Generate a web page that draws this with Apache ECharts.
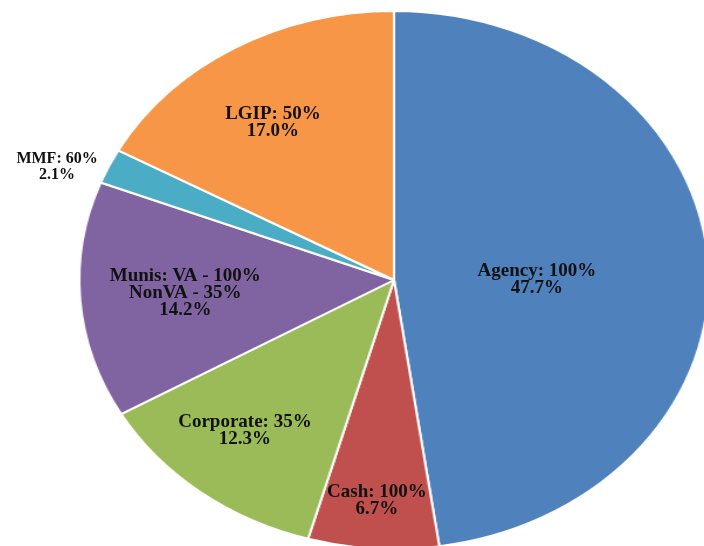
<!DOCTYPE html>
<html lang="en">
<head>
    <meta charset="UTF-8">
    <title>Portfolio</title>
    <script src="https://cdn.jsdelivr.net/npm/echarts@6/dist/echarts.min.js"></script>
    <style>
        html, body { margin: 0; padding: 0; background: #fff; overflow: hidden; }
        .layer { position: absolute; left: 0; top: 0; width: 704px; height: 546px; }
        #pie { transform: scaleX(1.17); transform-origin: 394px 280px; }
    </style>
</head>
<body>
<div id="pie" class="layer"></div>
<div id="labels" class="layer"></div>

<script type="text/javascript">

    // slices, clockwise from 12 o'clock
    const categories = ['Agency', 'Cash', 'Corporate', 'Munis', 'MMF', 'LGIP']
    const limits = ['100%', '100%', '35%', 'VA - 100%\nNonVA - 35%', '60%', '50%']
    const shares = [47.7, 6.7, 12.3, 14.2, 2.1, 17.0]

    const colors = ['#4f81bd', '#c0504d', '#9bbb59', '#8064a2', '#4bacc6', '#f79646']
    // label placement: fraction of the radius, and turn (degrees) off the slice middle
    const labelRadius = [0.454, 0.823, 0.734, 0.665, 1.15, 0.699]
    const labelTurn = [4.1, 0, 2.2, 0, -3.6, -2.8]
    const labelSize = [19, 19, 19, 19, 16, 19]

    const cx = 394, cy = 280, R = 269, stretch = 1.17

    const data = categories.map((c, i) => ({
        name: c,
        value: shares[i],
        itemStyle: { color: colors[i] }
    }))

    // pie itself, widened into an ellipse by the css transform
    let pieChart = echarts.init(document.getElementById('pie'))
    pieChart.setOption({
        animation: false,
        series: [{
            type: 'pie',
            center: [cx, cy],
            radius: [0, R],
            startAngle: 90,
            data: data,
            label: { show: false },
            labelLine: { show: false },
            itemStyle: { borderColor: '#fff', borderWidth: 2 }
        }]
    })

    // labels on an unstretched copy so the text keeps its shape
    const total = shares.reduce((a, b) => a + b, 0)
    const midAngle = []
    let acc = 0
    shares.forEach(v => {
        midAngle.push((acc + v / 2) / total * Math.PI * 2)
        acc += v
    })

    let labelChart = echarts.init(document.getElementById('labels'))
    labelChart.setOption({
        animation: false,
        series: [{
            type: 'pie',
            center: [cx, cy],
            radius: [0, R],
            startAngle: 90,
            silent: true,
            data: categories.map((c, i) => ({
                name: c,
                value: shares[i],
                label: { fontSize: labelSize[i], lineHeight: labelSize[i] < 19 ? 16 : 17 }
            })),
            itemStyle: { color: 'rgba(0,0,0,0)', borderWidth: 0 },
            label: {
                show: true,
                position: 'inside',
                fontFamily: '"Liberation Serif", "Times New Roman", serif',
                fontWeight: 'bold',
                fontSize: 19,
                lineHeight: 17,
                color: '#111',
                align: 'center',
                formatter: p => p.name + ': ' + limits[p.dataIndex] + '\n' + p.value.toFixed(1) + '%'
            },
            labelLine: { show: false },
            labelLayout: function (p) {
                const i = p.dataIndex
                const a = midAngle[i] + labelTurn[i] * Math.PI / 180
                const r = labelRadius[i] * R
                return {
                    x: cx + Math.sin(a) * r * stretch,
                    y: cy - Math.cos(a) * r,
                    align: 'center',
                    verticalAlign: 'middle'
                }
            }
        }]
    })

</script>
</body>
</html>
